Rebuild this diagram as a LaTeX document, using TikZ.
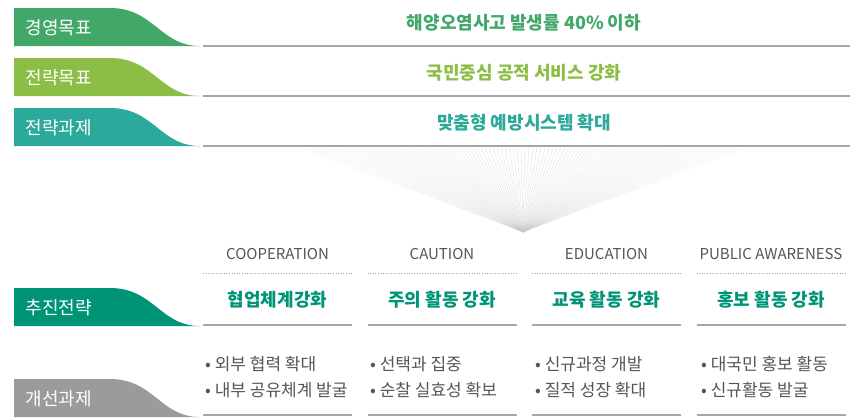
\documentclass[tikz,border=0pt]{standalone}
\usepackage{fontspec}
\setmainfont{Noto Sans CJK KR}
\usetikzlibrary{positioning}
\definecolor{verde}{HTML}{41A86A}
\definecolor{lima}{HTML}{8CBD45}
\definecolor{turquesa}{HTML}{2BA99A}
\definecolor{petroleo}{HTML}{009477}
\definecolor{gris}{HTML}{9B9B9B}
\definecolor{linea}{HTML}{A6A6A6}
\definecolor{texto}{HTML}{555555}
\tikzset{
	x=1pt, y=-1pt, % Un punto por pixel, eje y hacia abajo
	node distance=164.5pt, % Distancia entre columnas
	pestana/.pic={\fill[#1] (0,0) -- (96,0) .. controls (140,0) and (146,38) .. (186,38) -- (0,38) -- cycle;}, % Forma de las etiquetas
	etiqueta/.style={anchor=west, text=white, font=\fontsize{18}{18}\selectfont}, % Texto de las etiquetas
	meta/.style={font=\fontsize{18}{18}\selectfont\bfseries}, % Textos de los objetivos
	ingles/.style={text=texto, font=\fontsize{15}{15}\selectfont}, % Nombres en ingles
	estrategia/.style={text=petroleo, font=\fontsize{18}{18}\selectfont\bfseries}, % Estrategias
	vineta/.style={anchor=north west, align=left, text=texto, inner sep=0pt, font=\fontsize{17}{26}\selectfont}, % Tareas
	raya/.style={draw=linea, line width=1.3pt} % Lineas horizontales
}

\begin{document}
\begin{tikzpicture}
	\useasboundingbox (0,0) rectangle (850,418);
	% abanico
	\foreach \i in {0,...,111}
		\draw[gray!45, line width=0.3pt, opacity={0.2+0.5*(1-abs(\i-55.5)/55.5)}] (301+4*\i,148) -- (523,232);
	% etiquetas
	\pic at (14,8) {pestana=verde};
	\pic at (14,58) {pestana=lima};
	\pic at (14,108) {pestana=turquesa};
	\pic at (14,288) {pestana=petroleo};
	\pic at (14,379) {pestana=gris};
	\node[etiqueta] (e1) at (22,28) {경영목표};
	\node[etiqueta] (e2) at (22,78) {전략목표};
	\node[etiqueta] (e3) at (22,128) {전략과제};
	\node[etiqueta] (e4) at (22,308) {추진전략};
	\node[etiqueta] (e5) at (22,399) {개선과제};
	% objetivos
	\node[meta, text=verde] (m1) at (524,23) {해양오염사고 발생률 40\% 이하};
	\node[meta, text=lima] (m2) at (524,73) {국민중심 공적 서비스 강화};
	\node[meta, text=turquesa] (m3) at (524,123) {맞춤형 예방시스템 확대};
	\draw[raya] (203,46) -- (850,46) (203,96) -- (850,96) (203,146) -- (850,146);
	% columnas
	\node[ingles] (c1) at (277.5,254) {COOPERATION};
	\node[ingles, right of=c1] (c2) {CAUTION};
	\node[ingles, right of=c2] (c3) {EDUCATION};
	\node[ingles, right of=c3] (c4) {PUBLIC AWARENESS};
	\node[estrategia] (s1) at (277.5,300) {협업체계강화};
	\node[estrategia, right of=s1] (s2) {주의 활동 강화};
	\node[estrategia, right of=s2] (s3) {교육 활동 강화};
	\node[estrategia, right of=s3] (s4) {홍보 활동 강화};
	\node[vineta] (v1) at (205,356) {• 외부 협력 확대\\• 내부 공유체계 발굴};
	\node[vineta] (v2) at (370,356) {• 선택과 집중\\• 순찰 실효성 확보};
	\node[vineta] (v3) at (535,356) {• 신규과정 개발\\• 질적 성장 확대};
	\node[vineta] (v4) at (701,356) {• 대국민 홍보 활동\\• 신규활동 발굴};
	\foreach \x in {203,367.5,532,696.5} {
		\draw[linea, line width=0.6pt, dotted] (\x,273) -- (\x+149,273);
		\draw[raya] (\x,325) -- (\x+149,325);
		\draw[raya] (\x,415) -- (\x+149,415);
	}
\end{tikzpicture}
\end{document}
